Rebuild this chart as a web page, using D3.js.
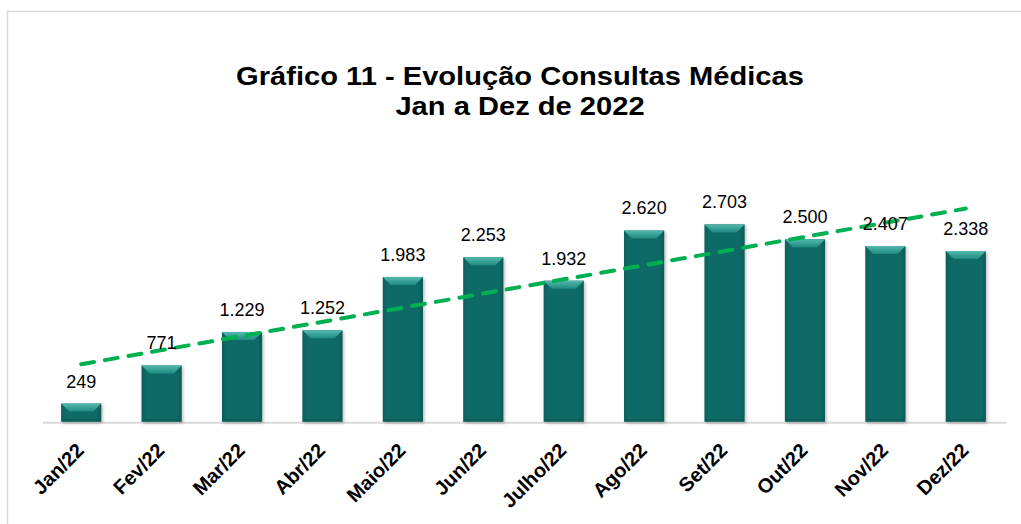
<!DOCTYPE html>
<html>
<head>
<meta charset="utf-8">
<script src="https://cdn.jsdelivr.net/npm/d3@7/dist/d3.min.js"></script>
<style>
  body { margin: 0; background: #fff; }
  svg { display: block; font-family: Arial, "Liberation Sans", sans-serif; }
</style>
</head>
<body>
<svg id="chart"></svg>
<script>
// data
var months = ['Jan/22','Fev/22','Mar/22','Abr/22','Maio/22','Jun/22','Julho/22','Ago/22','Set/22','Out/22','Nov/22','Dez/22'];
var consultas = [249, 771, 1229, 1252, 1983, 2253, 1932, 2620, 2703, 2500, 2407, 2338];
var titleLines = ['Gráfico 11 - Evolução Consultas Médicas', 'Jan a Dez de 2022'];

var width = 1021, height = 524;
var baseY = 421.7;

var ptBR = d3.formatLocale({decimal: ',', thousands: '.', grouping: [3], currency: ['R$', '']});
var fmt = ptBR.format(',d');

var svg = d3.select('#chart')
  .attr('width', width)
  .attr('height', height);

// outer border
svg.append('rect')
  .attr('x', 7.5).attr('y', 11.5)
  .attr('width', width + 10).attr('height', height + 10)
  .attr('fill', 'none')
  .attr('stroke', '#d9d9d9')
  .attr('stroke-width', 1.5);

//// defs: gradients + shadow
var defs = svg.append('defs');
var topGrad = defs.append('linearGradient').attr('id', 'topGrad')
  .attr('x1', 0).attr('y1', 0).attr('x2', 0).attr('y2', 1);
topGrad.append('stop').attr('offset', '0%').attr('stop-color', '#55b9ae');
topGrad.append('stop').attr('offset', '100%').attr('stop-color', '#1f8a81');

var bodyGrad = defs.append('linearGradient').attr('id', 'bodyGrad')
  .attr('x1', 0).attr('y1', 0).attr('x2', 1).attr('y2', 0);
bodyGrad.append('stop').attr('offset', '0%').attr('stop-color', '#0b5f5a');
bodyGrad.append('stop').attr('offset', '12%').attr('stop-color', '#0f6b66');
bodyGrad.append('stop').attr('offset', '88%').attr('stop-color', '#0f6b66');
bodyGrad.append('stop').attr('offset', '100%').attr('stop-color', '#0a5955');

var shadow = defs.append('filter').attr('id', 'shadow')
  .attr('x', '-20%').attr('y', '-20%').attr('width', '150%').attr('height', '150%');
shadow.append('feDropShadow')
  .attr('dx', 1.5).attr('dy', 1.5).attr('stdDeviation', 1.5)
  .attr('flood-color', '#000').attr('flood-opacity', 0.25);

//// scales
var x = d3.scaleBand()
  .domain(months)
  .range([41, 1006])
  .paddingInner(0.5)
  .paddingOuter(0.25);

var y = d3.scaleLinear()
  .domain([0, 3000])
  .range([baseY, 202.7]);

//// title (slightly wide lettering, as in the original)
svg.append('g')
  .selectAll('text')
  .data(titleLines)
  .enter()
  .append('text')
    .attr('transform', (d, i) => `translate(520,${85 + i * 30}) scale(1.12,1)`)
    .attr('text-anchor', 'middle')
    .attr('font-size', 26)
    .attr('font-weight', 'bold')
    .attr('fill', '#000')
    .text(d => d);

//// axis line
svg.append('line')
  .attr('x1', 43).attr('x2', 1006)
  .attr('y1', baseY + 1).attr('y2', baseY + 1)
  .attr('stroke', '#d9d9d9')
  .attr('stroke-width', 2);

//// bars
var rows = months.map((m, i) => ({month: m, value: consultas[i]}));
var bev = 8;

var bars = svg.append('g')
  .selectAll('.bar')
  .data(rows)
  .enter()
  .append('g')
    .classed('bar', true)
    .attr('filter', 'url(#shadow)');

bars.append('rect')
  .attr('x', d => x(d.month))
  .attr('y', d => y(d.value))
  .attr('width', x.bandwidth())
  .attr('height', d => baseY - y(d.value))
  .attr('fill', 'url(#bodyGrad)');

bars.append('path')
  .attr('fill', 'url(#topGrad)')
  .attr('d', d => {
    var x0 = x(d.month), x1 = x0 + x.bandwidth(), t = y(d.value);
    var b = Math.min(bev, (baseY - t) / 2);
    return `M${x0},${t}L${x1},${t}L${x1 - b},${t + b}L${x0 + b},${t + b}Z`;
  });

bars.append('path')
  .attr('fill', '#0a5550')
  .attr('opacity', 0.6)
  .attr('d', d => {
    var x0 = x(d.month), x1 = x0 + x.bandwidth(), t = y(d.value);
    var b = Math.min(3, (baseY - t) / 4);
    return `M${x0},${baseY}L${x1},${baseY}L${x1 - b},${baseY - b}L${x0 + b},${baseY - b}Z`;
  });

//// trend line (linear regression of the series)
var n = consultas.length;
var xs = d3.range(1, n + 1);
var mx = d3.mean(xs), my = d3.mean(consultas);
var slope = d3.sum(xs, (v, i) => (v - mx) * (consultas[i] - my)) / d3.sum(xs, v => (v - mx) * (v - mx));
var icpt = my - slope * mx;
var cx = m => x(m) + x.bandwidth() / 2;

svg.append('line')
  .attr('x1', cx(months[0]))
  .attr('y1', y(icpt + slope * 1))
  .attr('x2', cx(months[n - 1]))
  .attr('y2', y(icpt + slope * n))
  .attr('stroke', '#00b050')
  .attr('stroke-width', 4)
  .attr('stroke-linecap', 'round')
  .attr('stroke-dasharray', '13 11');

//// value labels
svg.append('g')
  .selectAll('text')
  .data(rows)
  .enter()
  .append('text')
    .attr('x', d => cx(d.month))
    .attr('y', d => y(d.value) - 16)
    .attr('text-anchor', 'middle')
    .attr('font-size', 18)
    .attr('fill', '#000')
    .text(d => fmt(d.value));

//// month labels
svg.append('g')
  .selectAll('text')
  .data(months)
  .enter()
  .append('text')
    .attr('transform', d => `translate(${cx(d) + 4},${baseY + 30}) rotate(-45)`)
    .attr('text-anchor', 'end')
    .attr('font-size', 20)
    .attr('font-weight', 'bold')
    .attr('fill', '#000')
    .text(d => d);
</script>
</body>
</html>
